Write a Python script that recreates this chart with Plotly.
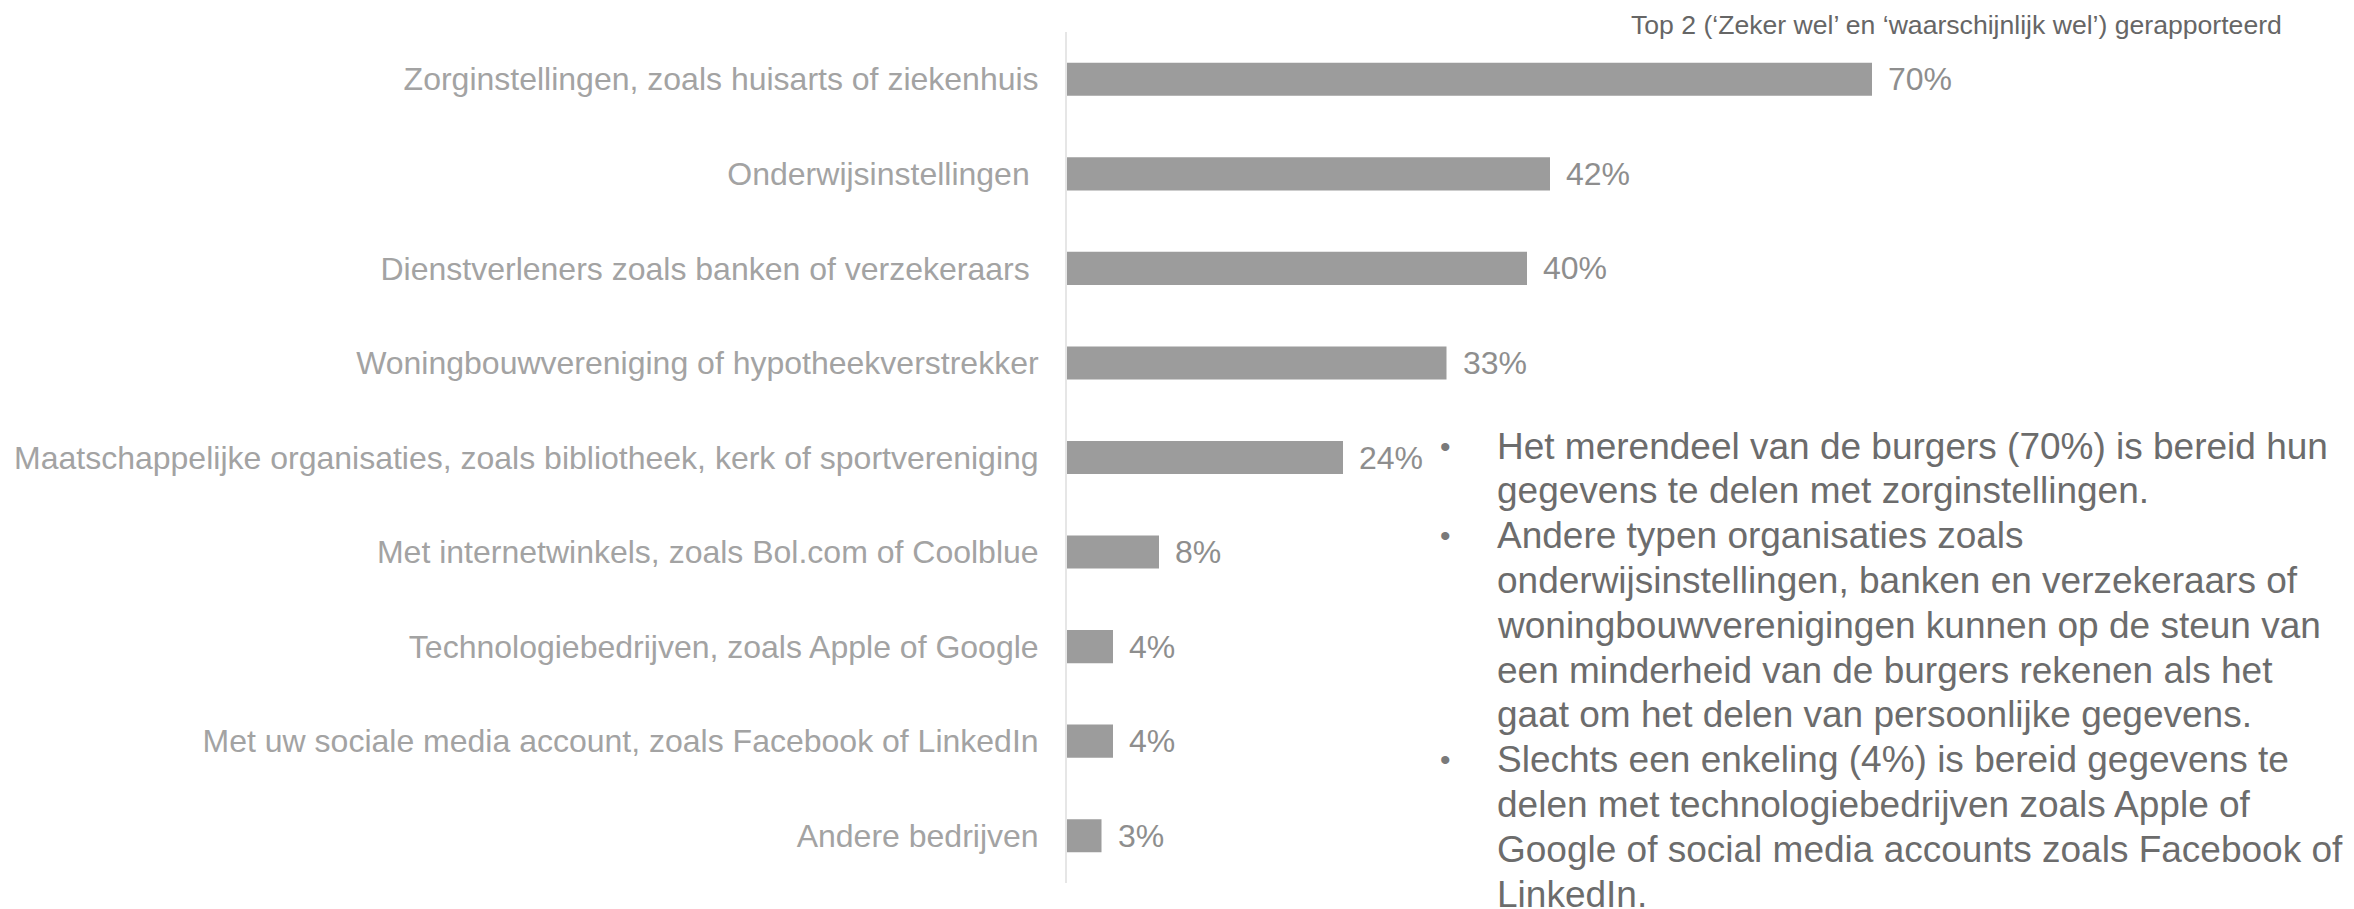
import plotly.graph_objects as go

categories = [
    "Zorginstellingen, zoals huisarts of ziekenhuis",
    "Onderwijsinstellingen\u00a0",
    "Dienstverleners zoals banken of verzekeraars\u00a0",
    "Woningbouwvereniging of hypotheekverstrekker",
    "Maatschappelijke organisaties, zoals bibliotheek, kerk of sportvereniging",
    "Met internetwinkels, zoals Bol.com of Coolblue",
    "Technologiebedrijven, zoals Apple of Google",
    "Met uw sociale media account, zoals Facebook of LinkedIn",
    "Andere bedrijven",
]
values = [70, 42, 40, 33, 24, 8, 4, 4, 3]

note = "Top 2 (\u2018Zeker wel\u2019 en \u2018waarschijnlijk wel\u2019) gerapporteerd"

bullets = [
    ["Het merendeel van de burgers (70%) is bereid hun",
     "gegevens te delen met zorginstellingen."],
    ["Andere typen organisaties zoals",
     "onderwijsinstellingen, banken en verzekeraars of",
     "woningbouwverenigingen kunnen op de steun van",
     "een minderheid van de burgers rekenen als het",
     "gaat om het delen van persoonlijke gegevens."],
    ["Slechts een enkeling (4%) is bereid gegevens te",
     "delen met technologiebedrijven zoals Apple of",
     "Google of social media accounts zoals Facebook of",
     "LinkedIn."],
]

OFF = 8  # page body margin
W, H = 2354 - OFF, 909 - OFF
ML = 1067 - OFF
MT = 32 - OFF
PLOT_BOTTOM = 883 - OFF
MR = 0
MB = H - PLOT_BOTTOM
PW = W - ML - MR
PH = H - MT - MB
FONT = "Liberation Sans, Arial, sans-serif"


def px_x(px):
    return (px - OFF - ML) / PW


def px_y(py):
    return (PLOT_BOTTOM - (py - OFF)) / PH


fig = go.Figure()
fig.add_trace(go.Bar(
    x=values, y=categories, orientation="h",
    marker=dict(color="#9c9c9c", line=dict(width=0)),
    hoverinfo="skip",
))

annotations = []
for c, v in zip(categories, values):
    annotations.append(dict(
        x=v, y=c, xref="x", yref="y", text=f"{v}%", showarrow=False,
        xanchor="left", yanchor="middle", xshift=14,
        font=dict(size=32, color="#8e8e8e", family=FONT),
    ))

annotations.append(dict(
    x=px_x(1629), y=px_y(25), xref="paper", yref="paper", text=note,
    showarrow=False, xanchor="left", yanchor="middle",
    font=dict(size=26.6, color="#666666", family=FONT),
))

line_y0 = 446
line_step = 44.8
i = 0
for para in bullets:
    annotations.append(dict(
        x=px_x(1445), y=px_y(line_y0 + i * line_step), xref="paper", yref="paper",
        text="\u2022", showarrow=False, xanchor="center", yanchor="middle",
        font=dict(size=30, color="#7a7a7a", family=FONT),
    ))
    for ln in para:
        annotations.append(dict(
            x=px_x(1495), y=px_y(line_y0 + i * line_step), xref="paper", yref="paper",
            text=ln, showarrow=False, xanchor="left", yanchor="middle",
            font=dict(size=37, color="#6c6c6c", family=FONT),
        ))
        i += 1

fig.update_layout(
    width=W, height=H,
    margin=dict(l=ML, r=MR, t=MT, b=MB, pad=0),
    paper_bgcolor="white", plot_bgcolor="white",
    bargap=0.65,
    showlegend=False,
    font=dict(family=FONT),
    annotations=annotations,
    xaxis=dict(range=[0, PW / 11.5], showgrid=False, zeroline=False,
               showticklabels=False, showline=False, fixedrange=True),
    yaxis=dict(autorange="reversed", showgrid=False, zeroline=False,
               showline=True, linecolor="#e6e6e6", linewidth=2,
               ticks="", ticklabelstandoff=20,
               tickfont=dict(size=32, color="#a3a3a3", family=FONT)),
)

fig.write_html("out.html")
